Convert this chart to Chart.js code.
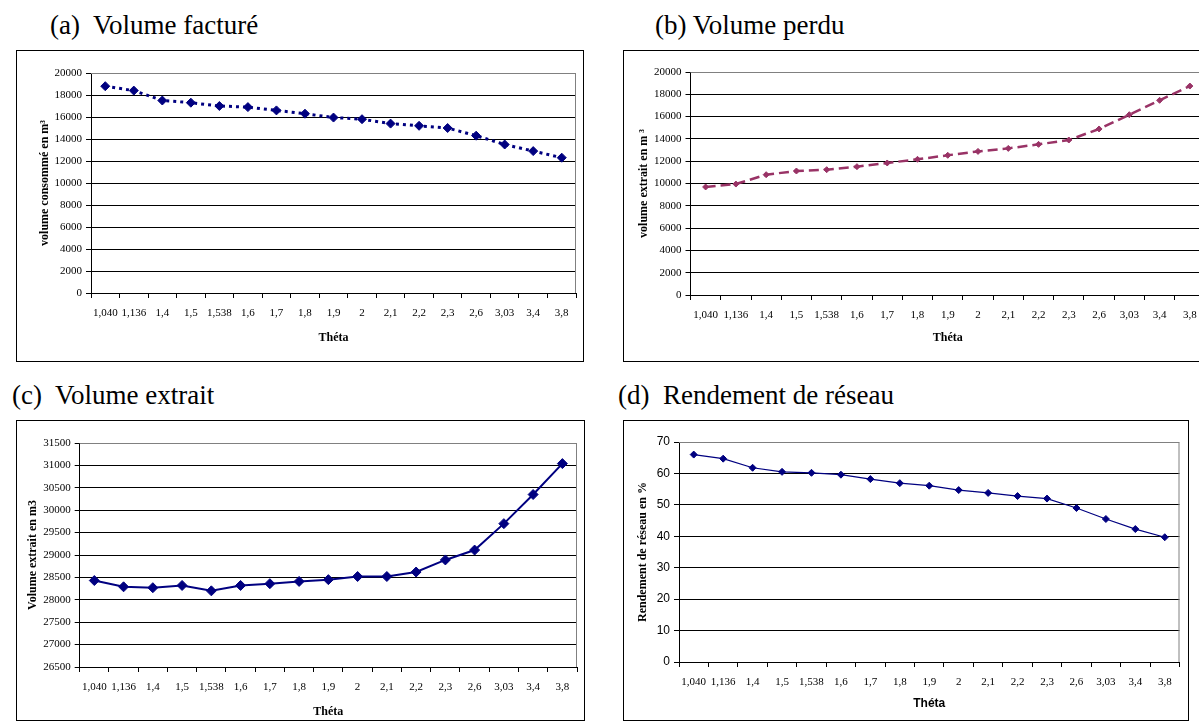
<!DOCTYPE html>
<html lang="fr">
<head>
<meta charset="UTF-8" />
<title>Volumes et rendement en fonction de Théta</title>
<script src="https://cdn.jsdelivr.net/npm/chart.js@4.4.0/dist/chart.umd.min.js"></script>
<style>
*{box-sizing:border-box}
body{margin:0;width:1199px;height:724px;overflow:hidden;background:#fff;position:relative;
  font-family:"Liberation Serif","Times New Roman",serif;color:#000}
.ttl{position:absolute;font-size:27px;line-height:27px;white-space:pre}
.box{position:absolute;border:1px solid #000;background:#fff}
.box canvas{display:block}
</style>
</head>
<body>

<div class="ttl" style="left:50px;top:12px">(a)  Volume facturé</div>
<div class="ttl" style="left:655px;top:12px">(b) Volume perdu</div>
<div class="ttl" style="left:12px;top:382px">(c)  Volume extrait</div>
<div class="ttl" style="left:618px;top:382px">(d)  Rendement de réseau</div>

<div class="box" style="left:16px;top:50px;width:568px;height:312px"><canvas id="cA" width="566" height="310"></canvas></div>
<div class="box" style="left:623px;top:50px;width:620px;height:312px"><canvas id="cB" width="618" height="310"></canvas></div>
<div class="box" style="left:16px;top:420px;width:569px;height:301px"><canvas id="cC" width="567" height="299"></canvas></div>
<div class="box" style="left:623px;top:420px;width:566px;height:301px"><canvas id="cD" width="564" height="299"></canvas></div>

<script>
/* ---------- données ---------- */
const THETA = ['1,040','1,136','1,4','1,5','1,538','1,6','1,7','1,8','1,9','2','2,1','2,2','2,3','2,6','3,03','3,4','3,8'];
const volFacture = [18800,18400,17500,17300,17000,16900,16600,16300,15950,15800,15400,15200,15000,14300,13500,12900,12300];
const volPerdu   = [9690,9950,10790,11120,11240,11510,11840,12170,12530,12880,13150,13510,13900,14890,16170,17460,18740];
const volExtrait = [28430,28290,28270,28320,28200,28320,28360,28410,28450,28520,28520,28620,28890,29110,29700,30350,31040];
const rendement  = [66,64.7,61.8,60.5,60.2,59.6,58.2,56.9,56.1,54.7,53.8,52.8,52,49,45.5,42.3,39.7];

const NAVY='#000080', PRUNE='#993366';
const SERIF='"Liberation Serif","Times New Roman",serif';
const SANS='"Liberation Sans",Arial,sans-serif';

/* cadre gris du graphique (haut + droite), comme Excel */
const frame={id:'frame',beforeDatasetsDraw(ch){
  const a=ch.chartArea,c=ch.ctx;
  c.save();c.strokeStyle='#808080';c.lineWidth=1;c.beginPath();
  c.moveTo(a.left,a.top+.5);c.lineTo(a.right-.5,a.top+.5);c.lineTo(a.right-.5,a.bottom);c.stroke();c.restore();
}};

/* g = géométrie de la zone de tracé, en px dans le canevas */
function panel(id,data,g,s){
  return new Chart(document.getElementById(id),{
    type:'line',
    data:{labels:THETA,datasets:[{data,borderColor:s.color,backgroundColor:s.color,
      borderWidth:s.lw,borderDash:s.dash||[],tension:0,
      pointStyle:'rectRot',pointRadius:s.pr,pointBorderWidth:1,pointHoverRadius:s.pr}]},
    options:{
      responsive:false,animation:false,
      layout:{padding:{top:g.top,right:g.right,left:0,bottom:0}},
      plugins:{legend:{display:false},tooltip:{enabled:false}},
      scales:{
        x:{offset:true,
          grid:{offset:true,drawOnChartArea:false,drawTicks:true,tickLength:5,tickColor:'#000'},
          border:{color:'#000'},
          ticks:{color:'#000',padding:8.5,autoSkip:false,maxRotation:0,font:{family:SERIF,size:11}},
          title:{display:true,text:'Théta',color:'#000',padding:{top:0,bottom:g.tb},
            font:{family:s.xFont||SERIF,size:12,weight:'bold'}},
          afterFit:sc=>{sc.height=g.xh}},
        y:{min:s.min,max:s.max,
          grid:{color:c=>c.tick&&c.tick.value===s.max?'#808080':'#000',tickLength:5,tickColor:'#000'},
          border:{color:'#000'},
          ticks:{stepSize:s.step,color:'#000',padding:4,callback:v=>String(v),
            font:{family:s.yFont||SERIF,size:s.yFont?12:11}},
          title:{display:true,text:s.yTitle,color:'#000',padding:{top:g.yt,bottom:0},
            font:{family:SERIF,size:12,weight:'bold'}},
          afterFit:sc=>{sc.width=g.left}}
      }
    },
    plugins:[frame]
  });
}

panel('cA',volFacture,{left:74,right:7,top:22,xh:68,tb:16,yt:21},
  {color:NAVY,lw:3,dash:[3,4],pr:4.5,min:0,max:20000,step:2000,yTitle:'volume consommé en m³'});
panel('cB',volPerdu,{left:66.5,right:37,top:21,xh:66,tb:16,yt:13},
  {color:PRUNE,lw:2.5,dash:[10,5],pr:3,min:0,max:20000,step:2000,yTitle:'volume extrait en m ³'});
panel('cC',volExtrait,{left:62.7,right:7,top:22,xh:53,tb:1,yt:9},
  {color:NAVY,lw:2,pr:5,min:26500,max:31500,step:500,yTitle:'Volume extrait en m3'});
panel('cD',rendement,{left:55,right:8.5,top:21,xh:58,tb:9,yt:12},
  {color:NAVY,lw:1.2,pr:3.5,min:0,max:70,step:10,yTitle:'Rendement de réseau en %',yFont:SANS,xFont:SANS});
</script>
</body>
</html>
